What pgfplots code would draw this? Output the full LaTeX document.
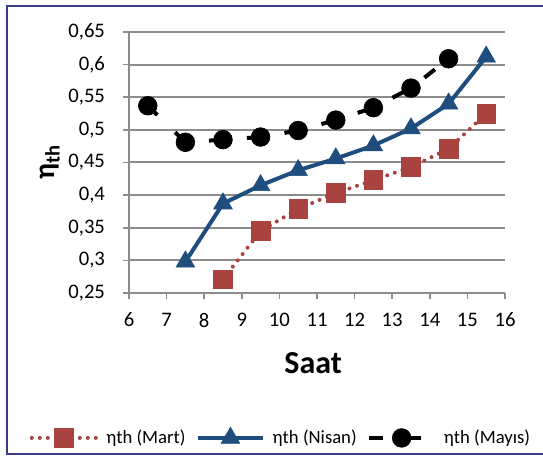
\documentclass[border=0pt]{standalone}
\usepackage{fontspec}
\setmainfont{Carlito}
\usepackage{pgfplots}
\pgfplotsset{compat=1.18}
\definecolor{MartRed}{HTML}{A9433F}
\definecolor{NisanBlue}{HTML}{1F4E7E}
\definecolor{GridGray}{HTML}{8C8C8C}
\definecolor{FrameNavy}{HTML}{3C3C8E}

\begin{document}
\begin{tikzpicture}
  % frame: 543x459 px at 0.75pt per px
  \useasboundingbox (0,0) rectangle (407.25pt,344.25pt);
  \draw[FrameNavy, line width=1.5pt] (407.25pt,339.6pt) -- (4.9pt,339.6pt) -- (4.9pt,3.4pt) -- (407.25pt,3.4pt);
  \begin{axis}[
    at={(96.75pt,124.5pt)}, anchor=south west,
    scale only axis, width=282pt, height=195.75pt,
    xmin=6, xmax=16, ymin=0.25, ymax=0.65,
    xtick={6,7,...,16},
    ytick={0.25,0.3,...,0.66},
    axis x line*=bottom, axis y line*=left,
    axis line style={GridGray, line width=1.5pt, -},
    tick style={GridGray, line width=1.2pt},
    tick align=outside, major tick length=4.5pt,
    ymajorgrids, grid style={GridGray, line width=1.5pt},
    /pgf/number format/use comma,
    /pgf/number format/assume math mode=true,
    ticklabel style={font=\fontsize{15.5}{18}\selectfont},
    xticklabel style={yshift=-7pt},
    yticklabel style={xshift=-10pt},
    xlabel={\textbf{Saat}},
    xlabel style={font=\fontsize{24}{28}\selectfont, at={(axis description cs:0.49,-0.268)}, anchor=center},
    ylabel={\textbf{η\textsubscript{th}}},
    ylabel style={font=\fontsize{22}{26}\selectfont, at={(axis description cs:-0.21,0.5)}, anchor=center, rotate=0},
    legend columns=3,
    legend style={draw=none, fill=none, font=\fontsize{14}{16}\selectfont,
      at={(axis description cs:0.405,-0.555)}, anchor=center,
      /tikz/every even column/.append style={column sep=6pt},
      /tikz/every odd column/.append style={column sep=4pt}},
    legend image code/.code={%
      \draw[mark repeat=2, mark phase=2] plot coordinates {(0cm,0cm) (0.85cm,0cm) (1.7cm,0cm)};},
  ]
    \addplot[MartRed, line width=3pt, line cap=round, dash pattern=on 0pt off 6pt,
      mark=square*, mark size=7pt, mark options={solid, fill=MartRed, draw=MartRed, line width=0.5pt}]
      coordinates {(8.5,0.271) (9.5,0.345) (10.5,0.379) (11.5,0.403) (12.5,0.423) (13.5,0.443) (14.5,0.471) (15.5,0.525)};
    \addlegendentry{ηth (Mart)}
    \addplot[NisanBlue, line width=3pt,
      mark=triangle*, mark size=8pt, mark options={solid, fill=NisanBlue, draw=NisanBlue, line width=0.5pt}]
      coordinates {(7.5,0.298) (8.5,0.387) (9.5,0.415) (10.5,0.438) (11.5,0.456) (12.5,0.476) (13.5,0.502) (14.5,0.540) (15.5,0.612)};
    \addlegendentry{ηth (Nisan)}
    \addplot[black, line width=3pt, dash pattern=on 10pt off 18.5pt, dash phase=0pt,
      mark=*, mark size=7pt, mark options={solid, fill=black, draw=black, line width=0.5pt}]
      coordinates {(6.5,0.537) (7.5,0.481) (8.5,0.485) (9.5,0.489) (10.5,0.499) (11.5,0.515) (12.5,0.534) (13.5,0.564) (14.5,0.609)};
    \addlegendentry{ηth (Mayıs)}
  \end{axis}
\end{tikzpicture}
\end{document}
